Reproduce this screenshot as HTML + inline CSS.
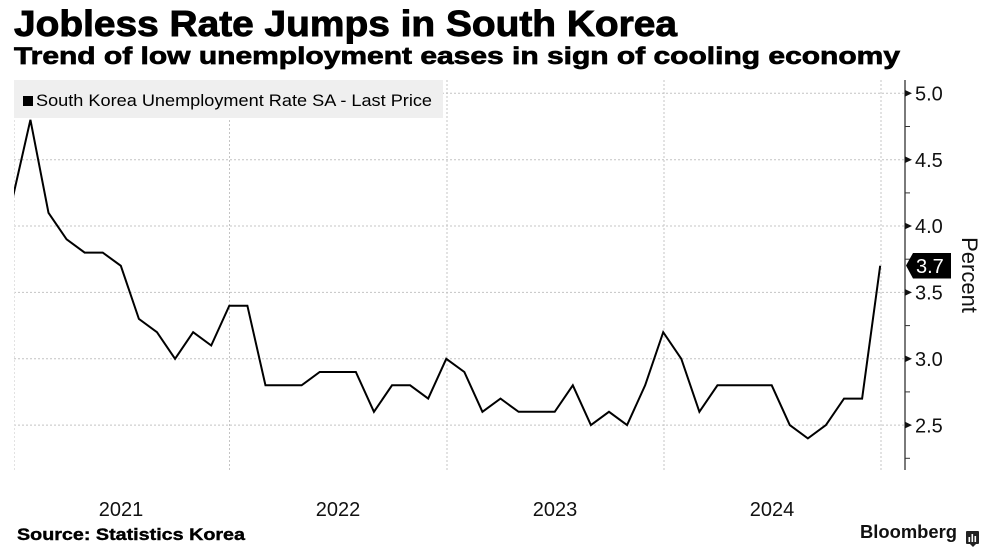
<!DOCTYPE html>
<html>
<head>
<meta charset="utf-8">
<style>
  html, body { margin: 0; padding: 0; background: #ffffff; }
  svg { display: block; }
  text { font-family: "Liberation Sans", "DejaVu Sans", sans-serif; }
</style>
</head>
<body>
<svg width="991" height="560" viewBox="0 0 991 560" xmlns="http://www.w3.org/2000/svg">
  <rect x="0" y="0" width="991" height="560" fill="#ffffff"/>

  <!-- Titles -->
  <text x="14" y="36" font-size="36" font-weight="bold" fill="#000" stroke="#000" stroke-width="0.9" textLength="663" lengthAdjust="spacingAndGlyphs">Jobless Rate Jumps in South Korea</text>
  <text x="14" y="64" font-size="24" font-weight="bold" fill="#000" stroke="#000" stroke-width="0.7" textLength="886" lengthAdjust="spacingAndGlyphs">Trend of low unemployment eases in sign of cooling economy</text>

  <!-- Horizontal gridlines -->
  <g stroke="#c4c4c4" stroke-width="1" stroke-dasharray="2,2">
    <line x1="14" y1="93.3" x2="905" y2="93.3"/>
    <line x1="14" y1="159.7" x2="905" y2="159.7"/>
    <line x1="14" y1="226" x2="905" y2="226"/>
    <line x1="14" y1="292.4" x2="905" y2="292.4"/>
    <line x1="14" y1="358.8" x2="905" y2="358.8"/>
    <line x1="14" y1="425.1" x2="905" y2="425.1"/>
  </g>
  <!-- Vertical gridlines -->
  <g stroke="#c4c4c4" stroke-width="1" stroke-dasharray="2,2">
    <line x1="14.5" y1="80" x2="14.5" y2="470" stroke="#e2e2e2"/>
    <line x1="229.5" y1="80" x2="229.5" y2="470"/>
    <line x1="447" y1="80" x2="447" y2="470"/>
    <line x1="664" y1="80" x2="664" y2="470"/>
    <line x1="881" y1="80" x2="881" y2="470"/>
  </g>

  <!-- Legend box -->
  <rect x="14" y="80" width="429" height="38" fill="#efefef"/>
  <rect x="23" y="96" width="10" height="10" fill="#000"/>
  <text x="36" y="106" font-size="17" fill="#000" textLength="396" lengthAdjust="spacingAndGlyphs">South Korea Unemployment Rate SA - Last Price</text>

  <!-- Data line -->
  <clipPath id="plotclip"><rect x="14" y="80" width="891" height="390"/></clipPath>
  <polyline clip-path="url(#plotclip)" fill="none" stroke="#000" stroke-width="2" stroke-linejoin="miter"
    points="12.34,199.5 30.42,119.8 48.5,212.8 66.58,239.3 84.66,252.6 102.74,252.6 120.82,265.8 138.9,318.9 156.98,332.2 175.06,358.8 193.14,332.2 211.22,345.5 229.3,305.7 247.38,305.7 265.46,385.3 283.54,385.3 301.62,385.3 319.7,372.0 337.78,372.0 355.86,372.0 373.94,411.8 392.02,385.3 410.1,385.3 428.18,398.6 446.26,358.8 464.34,372.0 482.42,411.8 500.5,398.6 518.58,411.8 536.66,411.8 554.74,411.8 572.82,385.3 590.9,425.1 608.98,411.8 627.06,425.1 645.14,385.3 663.22,332.2 681.3,358.8 699.38,411.8 717.46,385.3 735.54,385.3 753.62,385.3 771.7,385.3 789.78,425.1 807.86,438.4 825.94,425.1 844.02,398.6 862.1,398.6 880.18,265.8"/>

  <!-- Right axis -->
  <line x1="905" y1="80" x2="905" y2="470" stroke="#333" stroke-width="1.3"/>
  <!-- major ticks (triangles) -->
  <g fill="#111">
    <polygon points="905,90 912,93.3 905,96.6"/>
    <polygon points="905,156.4 912,159.7 905,163"/>
    <polygon points="905,222.7 912,226 905,229.3"/>
    <polygon points="905,289.1 912,292.4 905,295.7"/>
    <polygon points="905,355.5 912,358.8 905,362.1"/>
    <polygon points="905,421.8 912,425.1 905,428.4"/>
  </g>
  <!-- minor ticks -->
  <g stroke="#333" stroke-width="1">
    <line x1="905" y1="126.5" x2="910" y2="126.5"/>
    <line x1="905" y1="192.9" x2="910" y2="192.9"/>
    <line x1="905" y1="259.2" x2="910" y2="259.2"/>
    <line x1="905" y1="325.6" x2="910" y2="325.6"/>
    <line x1="905" y1="391.9" x2="910" y2="391.9"/>
    <line x1="905" y1="458.3" x2="910" y2="458.3"/>
  </g>
  <g font-size="20" fill="#111">
    <text x="915" y="100.5">5.0</text>
    <text x="915" y="166.9">4.5</text>
    <text x="915" y="233.2">4.0</text>
    <text x="915" y="299.6">3.5</text>
    <text x="915" y="366">3.0</text>
    <text x="915" y="432.3">2.5</text>
  </g>

  <!-- Last value label -->
  <polygon points="906,265.5 913,253 951,253 951,278.5 913,278.5" fill="#000"/>
  <text x="916" y="273" font-size="20" fill="#fff">3.7</text>

  <!-- Percent axis title -->
  <text x="0" y="0" font-size="22" fill="#111" text-anchor="middle" transform="translate(962,275) rotate(90)">Percent</text>

  <!-- Year labels -->
  <g font-size="20" fill="#111" text-anchor="middle">
    <text x="121" y="516">2021</text>
    <text x="338" y="516">2022</text>
    <text x="555" y="516">2023</text>
    <text x="772" y="516">2024</text>
  </g>

  <!-- Source -->
  <text x="17" y="540" font-size="17" font-weight="bold" fill="#000" stroke="#000" stroke-width="0.4" textLength="228" lengthAdjust="spacingAndGlyphs">Source: Statistics Korea</text>

  <!-- Bloomberg -->
  <text x="860" y="538" font-size="18" font-weight="bold" fill="#111" textLength="97" lengthAdjust="spacingAndGlyphs">Bloomberg</text>
  <rect x="966" y="531" width="13" height="13" rx="1" fill="#222"/>
  <polygon points="970,544 973,547 976,544" fill="#222"/>
  <g fill="#fff">
    <rect x="968.5" y="537" width="1.6" height="5"/>
    <rect x="971.5" y="534" width="1.6" height="8"/>
    <rect x="974.5" y="536" width="1.6" height="6"/>
  </g>
</svg>
</body>
</html>
